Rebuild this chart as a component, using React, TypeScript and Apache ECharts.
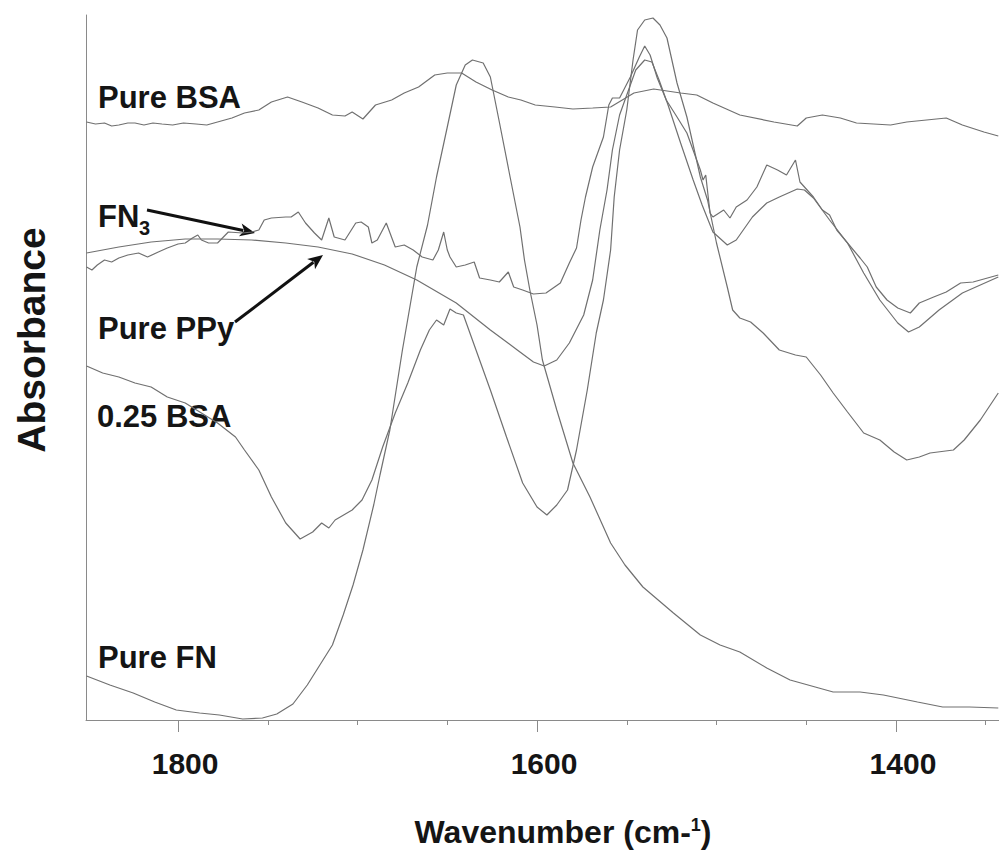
import React, { useEffect, useRef } from "react";
import * as echarts from "echarts";

const FONT = '"Liberation Sans", Arial, Helvetica, sans-serif';

// x extent of the plot (cm-1), reversed axis
const X_LEFT = 1851.3;
const X_RIGHT = 1342.6;
const Y_MAX = 7.05;

const majorTicks = [1400, 1600, 1800];
const minorTicks = [1350, 1400, 1450, 1500, 1550, 1600, 1650, 1700, 1750, 1800];

const seriesNames = ["Pure BSA", "FN3", "Pure PPy", "0.25 BSA", "Pure FN"];

const pureBSA: [number, number][] = [
  [1851, 5.98], [1846, 5.96], [1841, 5.97], [1837, 5.94], [1833, 5.95], [1828, 5.97], [1824, 5.97],
  [1819, 5.95], [1814, 5.97], [1809, 5.96], [1803, 5.95], [1797, 5.97], [1790, 5.96], [1784, 5.95],
  [1778, 5.98], [1770, 6.02], [1763, 6.07], [1755, 6.1], [1748, 6.18], [1739, 6.23], [1731, 6.18],
  [1722, 6.12], [1714, 6.05], [1707, 6.04], [1703, 6.08], [1697, 6.01], [1690, 6.15], [1681, 6.2],
  [1674, 6.27], [1666, 6.33], [1657, 6.45], [1650, 6.47], [1642, 6.47], [1634, 6.38], [1625, 6.3],
  [1616, 6.23], [1609, 6.2], [1601, 6.15], [1590, 6.13], [1580, 6.11], [1569, 6.12], [1559, 6.13],
  [1546, 6.27], [1535, 6.31], [1520, 6.27], [1511, 6.25], [1502, 6.17], [1487, 6.05], [1468, 5.98],
  [1455, 5.94], [1450, 6.02], [1441, 6.05], [1431, 6.02], [1422, 5.97], [1403, 5.95], [1394, 5.98],
  [1372, 6.02], [1363, 5.95], [1351, 5.88], [1343, 5.84],
];

const fn3: [number, number][] = [
  [1851, 4.53], [1848, 4.5], [1845, 4.55], [1841, 4.6], [1837, 4.58], [1833, 4.62], [1828, 4.65],
  [1822, 4.67], [1817, 4.63], [1811, 4.68], [1806, 4.72], [1800, 4.76], [1796, 4.77], [1792, 4.82],
  [1789, 4.85], [1787, 4.8], [1783, 4.77], [1778, 4.77], [1772, 4.88], [1764, 4.87], [1759, 4.88],
  [1755, 4.9], [1752, 5.0], [1748, 5.02], [1740, 5.03], [1737, 5.03], [1733, 5.08], [1729, 4.97],
  [1724, 4.87], [1720, 4.8], [1716, 5.02], [1713, 4.83], [1707, 4.8], [1701, 4.97], [1698, 4.98],
  [1694, 4.93], [1692, 4.77], [1689, 4.8], [1684, 4.97], [1679, 4.73], [1674, 4.75], [1669, 4.7],
  [1664, 4.63], [1658, 4.6], [1655, 4.7], [1652, 4.88], [1650, 4.7], [1648.5, 4.63], [1645, 4.53],
  [1640, 4.55], [1635, 4.58], [1632, 4.42], [1626, 4.4], [1621, 4.38], [1616, 4.48], [1613, 4.33],
  [1608, 4.3], [1602, 4.26], [1595, 4.27], [1587, 4.37], [1582, 4.57], [1578, 4.72], [1575.5, 5.0],
  [1573, 5.23], [1569, 5.53], [1563, 5.83], [1560, 6.15], [1558, 6.22], [1554, 6.22], [1548, 6.43],
  [1543, 6.63], [1540, 6.74], [1537, 6.65], [1533, 6.42], [1528, 6.2], [1522, 6.03], [1516.5, 5.87],
  [1509, 5.5], [1507.5, 5.4], [1506, 5.45], [1503.6, 5.07], [1502, 5.03], [1496, 5.1], [1492.5, 5.02],
  [1489, 5.13], [1483, 5.2], [1477.5, 5.33], [1472, 5.55], [1466, 5.5], [1461, 5.45], [1456, 5.6],
  [1453.5, 5.38], [1446, 5.23], [1441, 5.1], [1437, 5.05], [1433, 4.9], [1427, 4.77], [1420, 4.62],
  [1416, 4.53], [1411, 4.33], [1405, 4.2], [1399, 4.12], [1392, 4.07], [1387, 4.17], [1379, 4.23],
  [1372, 4.28], [1364, 4.37], [1357, 4.38], [1343, 4.45],
];

const purePPy: [number, number][] = [
  [1851, 4.67], [1833, 4.73], [1815, 4.78], [1796, 4.81], [1778, 4.81], [1759, 4.8], [1740, 4.77],
  [1722, 4.73], [1703, 4.66], [1685, 4.55], [1667, 4.4], [1645, 4.17], [1626, 3.9], [1611, 3.7],
  [1602, 3.58], [1596, 3.54], [1589, 3.6], [1582, 3.77], [1574, 4.05], [1569, 4.4], [1565, 4.9],
  [1561, 5.3], [1558, 5.7], [1554, 6.05], [1549, 6.3], [1545, 6.5], [1540, 6.6], [1536, 6.58],
  [1532, 6.4], [1527, 6.15], [1520, 5.77], [1513, 5.4], [1508, 5.15], [1502, 4.88], [1494, 4.75],
  [1489, 4.8], [1480, 5.03], [1472, 5.17], [1465, 5.23], [1455, 5.31], [1451, 5.3], [1446, 5.22],
  [1437, 5.0], [1427, 4.77], [1418, 4.47], [1409, 4.2], [1399, 3.97], [1393, 3.88], [1387, 3.93],
  [1376, 4.1], [1363, 4.27], [1343, 4.43],
];

const bsa025: [number, number][] = [
  [1851, 3.54], [1842, 3.47], [1833, 3.43], [1824, 3.37], [1815, 3.33], [1806, 3.23], [1796, 3.17],
  [1787, 3.07], [1778, 2.97], [1768, 2.83], [1763, 2.7], [1755, 2.5], [1748, 2.23], [1740, 1.97],
  [1736.5, 1.9], [1732, 1.81], [1725, 1.88], [1720, 1.97], [1716, 1.92], [1712.5, 2.0], [1703, 2.1],
  [1697.5, 2.2], [1692, 2.4], [1686, 2.73], [1679, 3.07], [1672, 3.37], [1665, 3.7], [1660, 3.9],
  [1656, 4.0], [1652, 3.95], [1648.5, 4.11], [1645, 4.07], [1641, 4.05], [1636, 3.8], [1626, 3.3],
  [1617, 2.83], [1608, 2.37], [1600, 2.13], [1594.5, 2.05], [1589, 2.15], [1583, 2.3], [1578, 2.7],
  [1572, 3.3], [1567, 3.87], [1563, 4.2], [1559, 4.7], [1557, 5.23], [1554, 5.7], [1550, 6.1],
  [1546.5, 6.6], [1544, 6.9], [1540, 7.0], [1535.4, 7.02], [1531.5, 6.95], [1527.6, 6.82], [1522, 6.37],
  [1516.5, 6.03], [1509, 5.43], [1505, 5.2], [1500, 4.77], [1494, 4.33], [1491, 4.1], [1487, 4.02],
  [1481, 3.98], [1474, 3.87], [1465, 3.7], [1456, 3.65], [1450, 3.63], [1442, 3.45], [1435, 3.27],
  [1427, 3.08], [1418, 2.87], [1409, 2.8], [1401, 2.68], [1394, 2.6], [1387, 2.63], [1381, 2.67],
  [1368, 2.7], [1362, 2.8], [1353, 3.0], [1343, 3.27],
];

const pureFN: [number, number][] = [
  [1851, 0.44], [1838, 0.35], [1825, 0.27], [1813, 0.18], [1801, 0.1], [1788, 0.07], [1777, 0.05],
  [1764, 0.01], [1753, 0.02], [1745, 0.06], [1736, 0.16], [1728, 0.35], [1721, 0.55], [1714, 0.75],
  [1708, 1.05], [1702.5, 1.35], [1697, 1.7], [1691, 2.15], [1687.5, 2.45], [1682, 2.9], [1675, 3.7],
  [1667, 4.53], [1661, 4.95], [1656, 5.43], [1650, 5.93], [1645, 6.35], [1640, 6.55], [1636, 6.6],
  [1630, 6.57], [1626, 6.43], [1621, 5.98], [1615, 5.43], [1609.5, 4.93], [1607, 4.6], [1604, 4.3],
  [1600, 3.95], [1597, 3.6], [1589, 3.1], [1580, 2.57], [1570.5, 2.23], [1559, 1.77], [1551, 1.55],
  [1541, 1.33], [1524, 1.07], [1509, 0.85], [1498, 0.75], [1487, 0.68], [1472, 0.52], [1459, 0.4],
  [1443, 0.32], [1435, 0.28], [1420, 0.28], [1407, 0.25], [1388, 0.18], [1374, 0.13], [1359, 0.13],
  [1343, 0.12],
];

const allSeries = [pureBSA, fn3, purePPy, bsa025, pureFN];

function arrow(sx: number, sy: number, tx: number, ty: number) {
  const dx = tx - sx;
  const dy = ty - sy;
  const L = Math.sqrt(dx * dx + dy * dy);
  const ux = dx / L;
  const uy = dy / L;
  const headLen = 15;
  const headHalf = 6.5;
  const bx = tx - ux * headLen;
  const by = ty - uy * headLen;
  const nx = -uy;
  const ny = ux;
  return [
    {
      type: "line",
      shape: { x1: sx, y1: sy, x2: bx + ux * 3, y2: by + uy * 3 },
      style: { stroke: "#111", lineWidth: 3 },
      silent: true,
    },
    {
      type: "polygon",
      shape: {
        points: [
          [tx, ty],
          [bx + nx * headHalf, by + ny * headHalf],
          [bx + ux * 4, by + uy * 4],
          [bx - nx * headHalf, by - ny * headHalf],
        ],
      },
      style: { fill: "#111" },
      silent: true,
    },
  ];
}

function label(text: string, x: number, y: number, size = 31) {
  return {
    type: "text",
    silent: true,
    style: {
      text,
      x,
      y,
      font: `bold ${size}px ${FONT}`,
      fill: "#151515",
      align: "left",
      textAlign: "left",
      verticalAlign: "middle",
      textVerticalAlign: "middle",
    },
  };
}

export default function App() {
  const ref = useRef<HTMLDivElement>(null);

  useEffect(() => {
    if (!ref.current) return;
    const chart = echarts.init(ref.current, null, { renderer: "svg" });

    const axisColor = "#8a8a8a";

    const option: any = {
      animation: false,
      backgroundColor: "#ffffff",
      grid: { left: 86, right: 0, top: 15, bottom: 135, containLabel: false },
      xAxis: [
        {
          type: "value",
          min: X_RIGHT,
          max: X_LEFT,
          inverse: true,
          position: "bottom",
          axisLine: { show: true, lineStyle: { color: axisColor, width: 1 } },
          axisTick: { show: true, customValues: minorTicks, length: 5, lineStyle: { color: axisColor, width: 1 } },
          axisLabel: { show: false },
          splitLine: { show: false },
        },
        {
          type: "value",
          min: X_RIGHT,
          max: X_LEFT,
          inverse: true,
          position: "bottom",
          axisLine: { show: false },
          axisTick: { show: true, customValues: majorTicks, length: 12, lineStyle: { color: axisColor, width: 1 } },
          axisLabel: {
            show: true,
            customValues: majorTicks,
            formatter: (v: number) => String(Math.round(v)),
            margin: 28,
            padding: [0, 0, 0, 14],
            fontSize: 30,
            fontWeight: "bold",
            fontFamily: FONT,
            color: "#151515",
          },
          splitLine: { show: false },
        },
      ],
      yAxis: {
        type: "value",
        min: 0,
        max: Y_MAX,
        axisLine: { show: true, lineStyle: { color: axisColor, width: 1 } },
        axisTick: { show: false },
        axisLabel: { show: false },
        splitLine: { show: false },
      },
      series: allSeries.map((d, i) => ({
        type: "line",
        name: seriesNames[i],
        data: d,
        xAxisIndex: 0,
        yAxisIndex: 0,
        showSymbol: false,
        symbol: "none",
        silent: true,
        lineStyle: { color: "#707070", width: 1.2 },
      })),
      graphic: {
        elements: [
          label("Pure BSA", 98, 97),
          label("FN", 98, 216),
          label("3", 139, 228, 20),
          label("Pure PPy", 98, 328),
          label("0.25 BSA", 97, 416),
          label("Pure FN", 98, 657),
          ...arrow(147, 210, 255, 233),
          ...arrow(235, 322, 323, 255),
          {
            type: "text",
            silent: true,
            x: 31,
            y: 340,
            rotation: Math.PI / 2,
            style: {
              text: "Absorbance",
              x: 0,
              y: 0,
              font: `bold 39px ${FONT}`,
              fill: "#151515",
              align: "center",
              textAlign: "center",
              verticalAlign: "middle",
              textVerticalAlign: "middle",
            },
          },
          {
            type: "text",
            silent: true,
            x: 563,
            y: 832,
            style: {
              text: "{a|Wavenumber (cm-}{s|1}{a|)}",
              x: 0,
              y: 0,
              align: "center",
              textAlign: "center",
              verticalAlign: "middle",
              textVerticalAlign: "middle",
              rich: {
                a: { font: `bold 32px ${FONT}`, fill: "#151515", lineHeight: 32 },
                s: { font: `bold 18px ${FONT}`, fill: "#151515", lineHeight: 16, verticalAlign: "top" },
              },
            },
          },
        ],
      },
    };

    chart.setOption(option);
    return () => chart.dispose();
  }, []);

  return (
    <div
      ref={ref}
      style={{ position: "fixed", left: 0, top: 0, width: 999, height: 855, background: "#fff" }}
    />
  );
}
